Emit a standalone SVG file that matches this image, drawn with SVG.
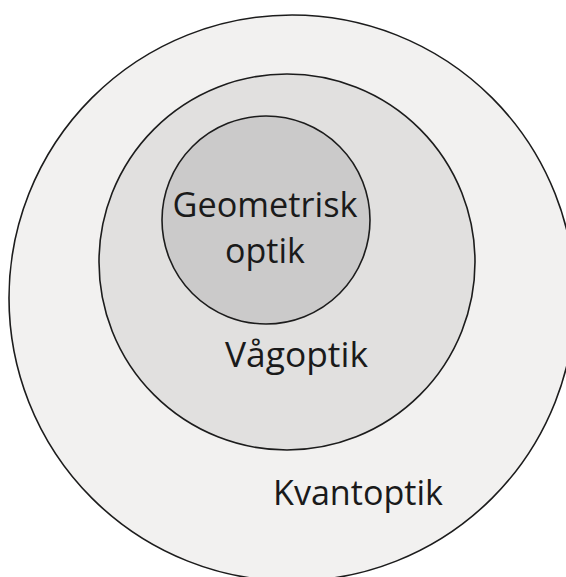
<svg xmlns="http://www.w3.org/2000/svg" width="566" height="577" viewBox="0 0 566 577">
  <style>
    .ring { stroke: #1c1c1c; stroke-width: 1.6; }
    .lbl { font-family: "Open Sans", "Noto Sans", "Liberation Sans", sans-serif; font-size: 34px; fill: #1a1a1a; text-anchor: middle; }
  </style>
  <rect width="566" height="577" fill="#ffffff"/>
  <g id="kvantoptik">
    <circle class="ring" cx="292" cy="298" r="283" fill="#f2f1f0"/>
    <text class="lbl" x="358" y="505" textLength="170" lengthAdjust="spacingAndGlyphs">Kvantoptik</text>
  </g>
  <g id="vagoptik">
    <circle class="ring" cx="287" cy="262" r="188" fill="#e1e0df"/>
    <text class="lbl" x="296.5" y="367" textLength="143" lengthAdjust="spacingAndGlyphs">Vågoptik</text>
  </g>
  <g id="geometrisk">
    <circle class="ring" cx="266" cy="220" r="104" fill="#cbcaca"/>
    <text class="lbl" x="265" y="217" textLength="185" lengthAdjust="spacingAndGlyphs">Geometrisk</text>
    <text class="lbl" x="265" y="263">optik</text>
  </g>
  <g id="connectors"/>
</svg>
